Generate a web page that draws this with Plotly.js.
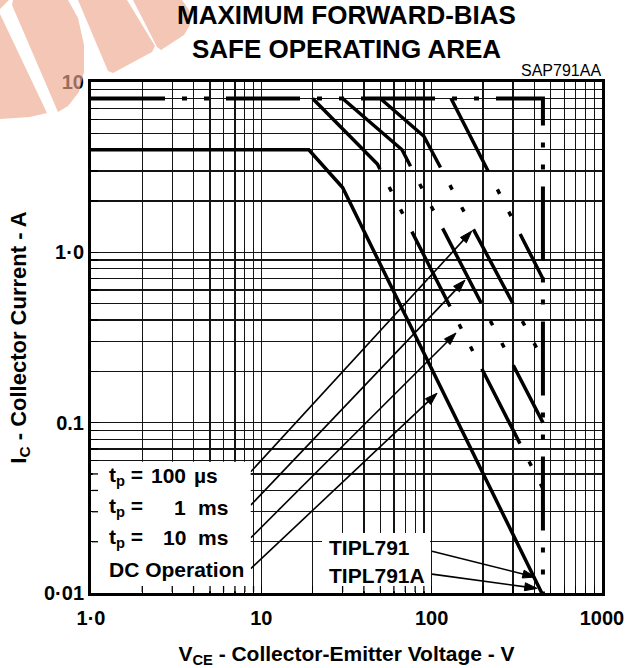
<!DOCTYPE html>
<html><head><meta charset="utf-8">
<script src="https://cdn.plot.ly/plotly-3.0.1.min.js"></script>
<style>html,body{margin:0;padding:0;background:#fff}</style>
</head><body><div id="chart" style="width:628px;height:668px"></div>
<script>
// ---------- data ----------
const envelopeV = [1, 450, 450];
const envelopeI = [8, 8, 0.01];
const dcV = [1, 19, 30, 443];
const dcI = [4, 4, 2.4, 0.01];
const tp10msV = [20, 48, 450];
const tp10msI = [8, 3.3, 0.041];
const tp1msV = [30, 67, 450];
const tp1msI = [8, 4.0, 0.1];
const tp100usV = [50, 90, 450];
const tp100usI = [8, 4.8, 0.234];
const tpShortV = [130, 450];
const tpShortI = [8, 0.7];

const xTickVals = [1, 10, 100, 1000];
const xTickText = ['1·0', '10', '100', '1000'];
const yTickVals = [0.01, 0.1, 1, 10];
const yTickText = ['0·01', '0.1', '1·0', '10'];

const legendPrefix = 't<sub>p</sub> =';
const legendValues = ['100', '1', '10'];
const legendUnits = ['µs', 'ms', 'ms'];
const dcLabel = 'DC Operation';
const deviceLabels = ['TIPL791', 'TIPL791A'];

// arrows: legend labels -> curves (tail, tip)
const legArrowTailV = [8.67, 8.67, 8.67, 8.67];
const legArrowTailI = [0.0515, 0.0328, 0.0211, 0.0139];
const legArrowTipV = [172, 157, 139, 107.6];
const legArrowTipI = [1.334, 0.687, 0.336, 0.149];
// arrows: device labels -> DC end
const devArrowTailV = [100.5, 100.5];
const devArrowTailI = [0.0176, 0.0129];
const devArrowTipV = [405, 416];
const devArrowTipI = [0.0124, 0.01064];

// ---------- geometry / styles ----------
const W = 628, H = 668, L = 91, T = 82, PW = 511, PH = 511;
const px = x => (x - L) / PW;
const py = y => (T + PH - y) / PH;
const FONT = 'Liberation Sans, Arial, Helvetica, sans-serif';
const GRID = '#141414';

function dash(first, solid, gap, dot, reps) {
  const a = [first];
  for (let i = 0; i < reps; i++) a.push(gap, dot, gap, dot, gap, solid);
  return a.map(v => v + 'px').join(',');
}

const traces = [
  {x: envelopeV, y: envelopeI, mode: 'lines', line: {color: '#000', width: 4, dash: dash(74, 74, 17, 5, 10)}},
  {x: dcV, y: dcI, mode: 'lines', line: {color: '#000', width: 3.5}},
  {x: tp10msV, y: tp10msI, mode: 'lines', line: {color: '#000', width: 3.5, dash: dash(98, 84, 20, 5, 8)}},
  {x: tp1msV, y: tp1msI, mode: 'lines', line: {color: '#000', width: 3.5, dash: dash(97, 84, 20, 5, 8)}},
  {x: tp100usV, y: tp100usI, mode: 'lines', line: {color: '#000', width: 3.5, dash: dash(93, 84, 20, 5, 8)}},
  {x: tpShortV, y: tpShortI, mode: 'lines', line: {color: '#000', width: 3.5, dash: dash(82, 84, 20, 5, 8)}}
];

// arrows as two-point lines with an arrow marker on the tip
function arrowTrace(tv, ti, hv, hi) {
  return {x: [tv, hv], y: [ti, hi], mode: 'lines+markers',
    line: {color: '#000', width: 1.6},
    marker: {symbol: 'arrow', angleref: 'previous', size: [0, 13], color: '#000', opacity: 1,
      line: {width: 1, color: '#000'}}};
}
for (let i = 0; i < legArrowTipV.length; i++)
  traces.push(arrowTrace(legArrowTailV[i], legArrowTailI[i], legArrowTipV[i], legArrowTipI[i]));
for (let i = 0; i < devArrowTipV.length; i++)
  traces.push(arrowTrace(devArrowTailV[i], devArrowTailI[i], devArrowTipV[i], devArrowTipI[i]));
traces.forEach(t => { t.hoverinfo = 'skip'; t.showlegend = false; });

function minorVals(lo, hi) {
  const v = [];
  for (let d = lo; d < hi; d++) for (let k = 2; k <= 9; k++) v.push(k * Math.pow(10, d));
  return v;
}

const axisCommon = {
  type: 'log', showline: true, mirror: true, linecolor: '#000', linewidth: 3,
  ticks: 'inside', ticklen: 7, tickwidth: 1.3, tickcolor: '#000',
  showgrid: true, gridcolor: GRID, gridwidth: 1.3, zeroline: false,
  tickmode: 'array',
  tickfont: {family: FONT, size: 20, weight: 'bold', color: '#000'},
  fixedrange: true
};

const annotations = [];
const lblFont = {family: FONT, size: 21, weight: 'bold', color: '#000'};
const rowY = [475.5, 507, 537.5];
for (let i = 0; i < legendValues.length; i++) {
  annotations.push({xref: 'paper', yref: 'paper', x: px(107), y: py(rowY[i]), xanchor: 'left', yanchor: 'middle',
    text: legendPrefix, showarrow: false, font: lblFont});
  annotations.push({xref: 'paper', yref: 'paper', x: px(188), y: py(rowY[i]), xanchor: 'right', yanchor: 'middle',
    text: legendValues[i], showarrow: false, font: lblFont});
  annotations.push({xref: 'paper', yref: 'paper', x: px(i === 0 ? 192 : 196), y: py(rowY[i]), xanchor: 'left', yanchor: 'middle',
    text: legendUnits[i], showarrow: false, font: lblFont});
}
annotations.push({xref: 'paper', yref: 'paper', x: px(107), y: py(569), xanchor: 'left', yanchor: 'middle',
  text: dcLabel, showarrow: false, font: lblFont});
const devY = [547.5, 575.5];
deviceLabels.forEach((t, i) => annotations.push({xref: 'paper', yref: 'paper', x: px(327), y: py(devY[i]),
  xanchor: 'left', yanchor: 'middle', text: t, showarrow: false, font: lblFont}));
annotations.push({xref: 'paper', yref: 'paper', x: px(603), y: py(71), xanchor: 'right', yanchor: 'middle',
  text: 'SAP791AA', showarrow: false, font: {family: FONT, size: 16, color: '#000'}});

function pathPx(pts) {
  return 'M ' + pts.map(p => px(p[0]).toFixed(5) + ',' + py(p[1]).toFixed(5)).join(' L ') + ' Z';
}
const wm = {fillcolor: '#eda88f', opacity: 0.65, line: {width: 0}, layer: 'above', xref: 'paper', yref: 'paper', type: 'path'};
const watermark = [
  [[0,0],[9,0],[0,9]],
  [[0,14],[47,113],[30,117],[0,119]],
  [[13,0],[68,0],[78,18],[84,45],[84,72],[79,92],[68,106],[58,112],[12,5]],
  [[78,0],[127,0],[155,46],[152,52],[113,73],[108,71]],
  [[133,0],[182,0],[189,10],[190,25],[184,35],[161,50],[157,47]]
].map(p => Object.assign({path: pathPx(p)}, wm));

// white label backgrounds (kept inside the frame so the border stays visible)
const boxes = [
  [92.8, 461.7, 250.7, 591.3],
  [322, 533, 430, 591.3]
];
const shapes = boxes.map(b => ({type: 'rect', xref: 'paper', yref: 'paper',
  x0: px(b[0]), x1: px(b[2]), y0: py(b[3]), y1: py(b[1]),
  fillcolor: '#fff', line: {width: 0}, layer: 'above'}));
// inside frame ticks that stay visible inside the label boxes (axis values)
const boxTicksY = [0.02, 0.03, 0.04, 0.05];
const boxTicksX = [2, 3, 4, 5, 6, 7, 8, 9, 30, 40, 50, 60, 70, 80, 90];
boxTicksY.forEach(v => shapes.push({type: 'line', xref: 'paper', yref: 'y', x0: px(92), x1: px(98),
  y0: v, y1: v, line: {color: '#000', width: 1.3}, layer: 'above'}));
boxTicksX.forEach(v => shapes.push({type: 'line', xref: 'x', yref: 'paper', x0: v, x1: v,
  y0: py(592), y1: py(586), line: {color: '#000', width: 1.3}, layer: 'above'}));
watermark.forEach(w => shapes.push(w));

const layout = {
  width: W, height: H,
  margin: {l: L, r: W - L - PW, t: T, b: H - T - PH},
  paper_bgcolor: '#fff', plot_bgcolor: '#fff',
  showlegend: false,
  title: {text: 'MAXIMUM FORWARD-BIAS<br>SAFE OPERATING AREA', xref: 'paper', x: 0.5, xanchor: 'center',
    yref: 'container', y: 1 - 24 / H, yanchor: 'middle',
    font: {family: FONT, size: 26, weight: 'bold', color: '#000'}},
  xaxis: Object.assign({}, axisCommon, {
    range: [0, 3], tickvals: xTickVals, ticktext: xTickText, ticklabelstandoff: 5,
    minor: {tickvals: minorVals(0, 3), showgrid: true, gridcolor: GRID, gridwidth: 1.3,
      ticks: 'inside', ticklen: 7, tickcolor: '#000', tickwidth: 1.3},
    title: {text: 'V<sub>CE</sub> - Collector-Emitter Voltage - V', standoff: 20,
      font: {family: FONT, size: 21, weight: 'bold', color: '#000'}}
  }),
  yaxis: Object.assign({}, axisCommon, {
    range: [-2, 1], tickvals: yTickVals, ticktext: yTickText,
    minor: {tickvals: minorVals(-2, 1), showgrid: true, gridcolor: GRID, gridwidth: 1.3,
      ticks: 'inside', ticklen: 7, tickcolor: '#000', tickwidth: 1.3},
    title: {text: 'I<sub>C</sub> - Collector Current - A', standoff: 12,
      font: {family: FONT, size: 22, weight: 'bold', color: '#000'}}
  }),
  annotations: annotations,
  shapes: shapes
};

Plotly.newPlot('chart', traces, layout, {staticPlot: true, displayModeBar: false});
</script></body></html>
